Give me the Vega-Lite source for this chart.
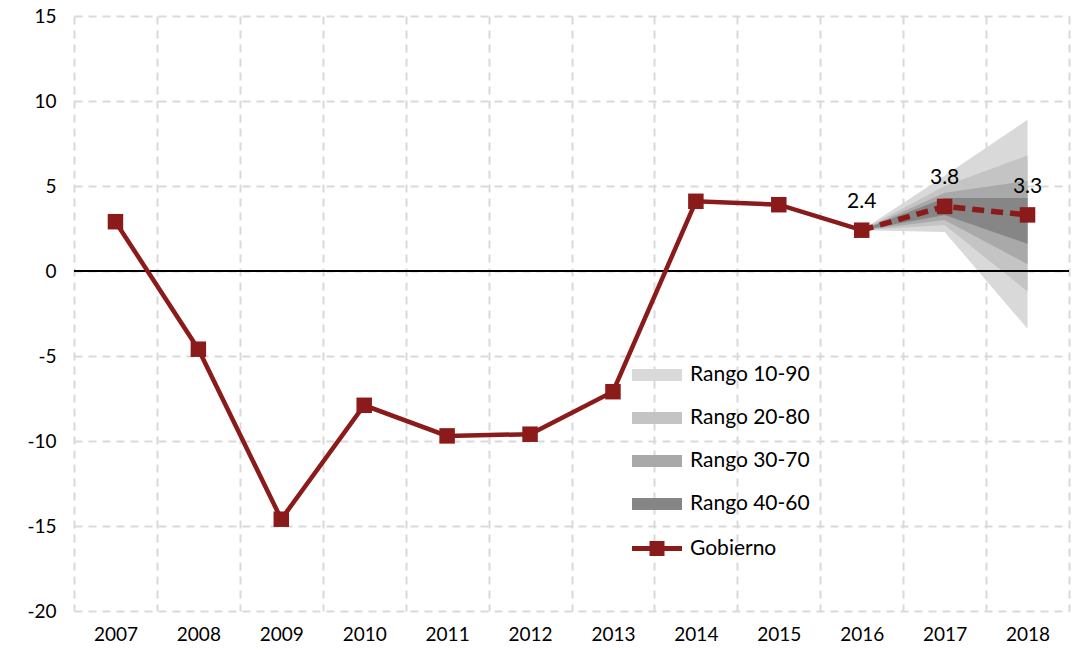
{
  "$schema": "https://vega.github.io/schema/vega-lite/v6.json",
  "width": 995,
  "height": 595,
  "autosize": "none",
  "padding": {"left": 74, "top": 16, "right": 7, "bottom": 39},
  "background": "white",
  "config": {
    "view": {"stroke": null},
    "font": "Lato",
    "axis": {"labelColor": "#000000", "labelFont": "Lato"},
    "legend": {"labelColor": "#000000", "labelFont": "Lato"}
  },
  "datasets": {
    "fan": [
      {"anio": 2016, "rango": "Rango 10-90", "lo": 2.4, "hi": 2.4},
      {"anio": 2017, "rango": "Rango 10-90", "lo": 2.3, "hi": 5.6},
      {"anio": 2018, "rango": "Rango 10-90", "lo": -3.4, "hi": 8.9},
      {"anio": 2016, "rango": "Rango 20-80", "lo": 2.4, "hi": 2.4},
      {"anio": 2017, "rango": "Rango 20-80", "lo": 2.7, "hi": 5.0},
      {"anio": 2018, "rango": "Rango 20-80", "lo": -1.2, "hi": 6.8},
      {"anio": 2016, "rango": "Rango 30-70", "lo": 2.4, "hi": 2.4},
      {"anio": 2017, "rango": "Rango 30-70", "lo": 3.0, "hi": 4.6},
      {"anio": 2018, "rango": "Rango 30-70", "lo": 0.4, "hi": 5.3},
      {"anio": 2016, "rango": "Rango 40-60", "lo": 2.4, "hi": 2.4},
      {"anio": 2017, "rango": "Rango 40-60", "lo": 3.3, "hi": 4.3},
      {"anio": 2018, "rango": "Rango 40-60", "lo": 1.6, "hi": 4.3}
    ],
    "gob": [
      {"anio": 2007, "valor": 2.9, "serie": "Gobierno"},
      {"anio": 2008, "valor": -4.6, "serie": "Gobierno"},
      {"anio": 2009, "valor": -14.6, "serie": "Gobierno"},
      {"anio": 2010, "valor": -7.9, "serie": "Gobierno"},
      {"anio": 2011, "valor": -9.7, "serie": "Gobierno"},
      {"anio": 2012, "valor": -9.6, "serie": "Gobierno"},
      {"anio": 2013, "valor": -7.1, "serie": "Gobierno"},
      {"anio": 2014, "valor": 4.1, "serie": "Gobierno"},
      {"anio": 2015, "valor": 3.9, "serie": "Gobierno"},
      {"anio": 2016, "valor": 2.4, "serie": "Gobierno"},
      {"anio": 2017, "valor": 3.8, "serie": "Gobierno"},
      {"anio": 2018, "valor": 3.3, "serie": "Gobierno"}
    ],
    "cero": [{"ref": 0}]
  },
  "layer": [
    {
      "data": {"name": "fan"},
      "mark": {"type": "area", "opacity": 1},
      "encoding": {
        "x": {
          "field": "anio", "type": "ordinal", "title": null,
          "scale": {"type": "band", "paddingInner": 0, "paddingOuter": 0},
          "axis": {
            "labelAngle": 0, "tickBand": "extent", "grid": true,
            "gridDash": [8, 6], "gridColor": "#d9d9d9", "gridWidth": 2,
            "ticks": false, "domain": false, "labelFontSize": 19, "labelPadding": 14
          }
        },
        "y": {
          "field": "lo", "type": "quantitative", "title": null,
          "scale": {"domain": [-20, 15], "nice": false, "zero": false},
          "axis": {
            "values": [-20, -15, -10, -5, 0, 5, 10, 15], "grid": true,
            "gridDash": [8, 6], "gridColor": "#d9d9d9", "gridWidth": 2,
            "ticks": false, "domain": false, "labelFontSize": 19, "labelPadding": 18,
            "labelExpr": "replace(datum.label, '\u2212', '-')"
          }
        },
        "y2": {"field": "hi"},
        "fill": {
          "field": "rango", "type": "nominal",
          "scale": {
            "domain": ["Rango 10-90", "Rango 20-80", "Rango 30-70", "Rango 40-60"],
            "range": ["#d9d9d9", "#c4c4c4", "#a9a9a9", "#868686"]
          },
          "legend": {
            "title": null, "orient": "none", "legendX": 570.5, "legendY": 346.5,
            "symbolType": "M-2,-0.48H2V0.48H-2Z", "symbolSize": 625,
            "labelFontSize": 21, "labelOffset": 20.5, "rowPadding": 20, "padding": 0,
            "symbolStrokeWidth": 0, "symbolOpacity": 1
          }
        }
      }
    },
    {
      "data": {"name": "cero"},
      "mark": {"type": "rule", "color": "#000000", "strokeWidth": 2},
      "encoding": {"y": {"field": "ref", "type": "quantitative", "title": null}}
    },
    {
      "data": {"name": "gob"},
      "transform": [{"filter": "datum.anio <= 2016"}],
      "mark": {"type": "line", "color": "#8b1a1a", "strokeWidth": 4.5},
      "encoding": {
        "x": {"field": "anio", "type": "ordinal", "title": null},
        "y": {"field": "valor", "type": "quantitative", "title": null}
      }
    },
    {
      "data": {"name": "gob"},
      "transform": [{"filter": "datum.anio >= 2016"}],
      "mark": {"type": "line", "color": "#8b1a1a", "strokeWidth": 5.5, "strokeDash": [12, 7]},
      "encoding": {
        "x": {"field": "anio", "type": "ordinal", "title": null},
        "y": {"field": "valor", "type": "quantitative", "title": null}
      }
    },
    {
      "data": {"name": "gob"},
      "mark": {"type": "point", "shape": "square", "filled": true, "size": 240, "opacity": 1},
      "encoding": {
        "x": {"field": "anio", "type": "ordinal", "title": null},
        "y": {"field": "valor", "type": "quantitative", "title": null},
        "color": {
          "field": "serie", "type": "nominal",
          "scale": {"domain": ["Gobierno"], "range": ["#8b1a1a"]},
          "legend": {
            "title": null, "orient": "none", "legendX": 570.5, "legendY": 520,
            "symbolType": "M-2,-0.2H2V0.2H-2Z M-0.6,-0.6H0.6V0.6H-0.6Z", "symbolSize": 625,
            "labelFontSize": 21, "labelOffset": 20.5, "padding": 0,
            "symbolStrokeWidth": 0, "symbolOpacity": 1, "symbolFillColor": "#8b1a1a"
          }
        }
      }
    },
    {
      "data": {"name": "gob"},
      "transform": [{"filter": "datum.anio >= 2016"}],
      "mark": {"type": "text", "dy": -28, "fontSize": 21, "color": "#000000", "baseline": "middle"},
      "encoding": {
        "x": {"field": "anio", "type": "ordinal", "title": null},
        "y": {"field": "valor", "type": "quantitative", "title": null},
        "text": {"field": "valor", "type": "quantitative", "format": ".1f"}
      }
    }
  ]
}
